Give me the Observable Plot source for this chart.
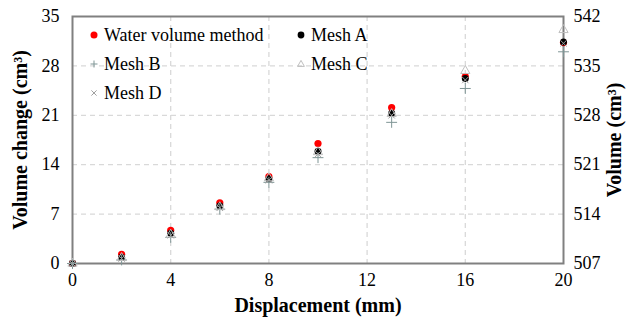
<!DOCTYPE html>
<html>
<head>
<meta charset="utf-8">
<script src="https://cdn.jsdelivr.net/npm/d3@7"></script>
<script src="https://cdn.jsdelivr.net/npm/@observablehq/plot@0.6"></script>
<style>
  html, body { margin: 0; padding: 0; background: #fff; }
  #wrap { position: relative; width: 627px; height: 324px; font-family: "Liberation Serif", "Times New Roman", serif; }
  #wrap svg { position: absolute; left: 0; top: 0; overflow: visible; font-family: "Liberation Serif", "Times New Roman", serif !important; }
  #wrap svg text { font-family: "Liberation Serif", "Times New Roman", serif !important; }
</style>
</head>
<body>
<div id="wrap"></div>
<script>
// ---- data ----
const displacement = [0, 2, 4, 6, 8, 10, 13, 16, 20];
const waterVolume  = [0, 1.3, 4.7, 8.6, 12.3, 17.0, 22.1, 26.5, 31.3];
const meshA        = [0, 0.9, 4.3, 8.2, 12.0, 15.9, 21.3, 26.2, 31.4];
const meshB        = [0, 0.5, 3.7, 7.7, 11.5, 15.0, 20.0, 24.8, 30.0];
const meshC        = [0, 0.8, 4.1, 8.0, 12.1, 15.8, 21.2, 27.3, 33.1];
const meshD        = [0, 0.7, 4.0, 7.9, 11.8, 15.5, 21.0, 26.0, 31.2];
const xTicks = [0, 4, 8, 12, 16, 20];
const yTicks = [0, 7, 14, 21, 28, 35];
const volumeOffset = 507; // right axis: absolute volume = change + 507
const seriesNames = ["Water volume method", "Mesh A", "Mesh B", "Mesh C", "Mesh D"];

const rows = (ys) => displacement.map((x, i) => ({x, y: ys[i]}));

const W = 627, H = 324;
const font = "'Liberation Serif', 'Times New Roman', serif";

const chart = Plot.plot({
  width: W, height: H,
  marginLeft: 72, marginRight: 64, marginTop: 16, marginBottom: 61,
  style: {fontFamily: font, fontSize: "18px", color: "#000", background: "transparent"},
  x: {domain: [0, 20]},
  y: {domain: [0, 35]},
  marks: [
    Plot.gridX(xTicks.slice(1, -1), {stroke: "#d9d9d9", strokeOpacity: 1, strokeWidth: 1.3, strokeDasharray: "5,4"}),
    Plot.gridY(yTicks.slice(1, -1), {stroke: "#d9d9d9", strokeOpacity: 1, strokeWidth: 1.3, strokeDasharray: "5,4"}),
    Plot.frame({stroke: "#808080", strokeWidth: 2}),
    Plot.axisX(xTicks, {tickSize: 0, tickPadding: 10, label: null, fontSize: 18, fontFamily: font}),
    Plot.axisY(yTicks, {anchor: "left", tickSize: 0, tickPadding: 13, label: null, fontSize: 18, fontFamily: font}),
    Plot.axisY(yTicks, {anchor: "right", tickSize: 0, tickPadding: 10, label: null, fontSize: 18, fontFamily: font,
      tickFormat: d => String(d + volumeOffset)}),
    Plot.dot(rows(waterVolume), {x: "x", y: "y", r: 3.6, fill: "#ff0000", stroke: "none"}),
    Plot.dot(rows(meshA), {x: "x", y: "y", r: 3.5, fill: "#000", stroke: "none"}),
    Plot.dot(rows(meshB), {x: "x", y: "y", symbol: "plus", r: 3.6, stroke: "#7f9595", strokeWidth: 1, fill: "none"}),
    Plot.dot(rows(meshC), {x: "x", y: "y", symbol: "triangle", r: 3.4, stroke: "#bfbfbf", strokeWidth: 1, fill: "none"}),
    Plot.dot(rows(meshD), {x: "x", y: "y", symbol: "times", r: 3.0, stroke: "#a0a0a0", strokeWidth: 1, fill: "none"}),
    Plot.text(["Displacement (mm)"], {frameAnchor: "bottom", dy: 42, fontSize: 20, fontWeight: "bold", lineAnchor: "middle", textAnchor: "middle", fontFamily: font}),
    Plot.text(["Volume change (cm³)"], {frameAnchor: "left", dx: -52, rotate: -90, fontSize: 20, fontWeight: "bold", lineAnchor: "middle", textAnchor: "middle", fontFamily: font}),
    Plot.text(["Volume (cm³)"], {frameAnchor: "right", dx: 51, rotate: -90, fontSize: 20, fontWeight: "bold", lineAnchor: "middle", textAnchor: "middle", fontFamily: font})
  ]
});
document.getElementById("wrap").appendChild(chart);

// ---- legend overlay (inside the plot frame, two columns) ----
const legendItems = [
  {name: seriesNames[0], sym: "circleRed", col: 0, row: 0},
  {name: seriesNames[1], sym: "circleBlack", col: 1, row: 0},
  {name: seriesNames[2], sym: "plus", col: 0, row: 1},
  {name: seriesNames[3], sym: "triangle", col: 1, row: 1},
  {name: seriesNames[4], sym: "times", col: 0, row: 2}
];
const leg = d3.select("#wrap").append("svg").attr("width", W).attr("height", H)
  .style("pointer-events", "none");
const colX = [94, 301], rowY = [35, 64, 93];
for (const it of legendItems) {
  const cx = colX[it.col], cy = rowY[it.row];
  const g = leg.append("g");
  if (it.sym === "circleRed") g.append("circle").attr("cx", cx).attr("cy", cy).attr("r", 3.5).attr("fill", "#ff0000");
  if (it.sym === "circleBlack") g.append("circle").attr("cx", cx).attr("cy", cy).attr("r", 3.4).attr("fill", "#000");
  if (it.sym === "plus") g.append("path").attr("d", `M${cx-3.5},${cy}H${cx+3.5}M${cx},${cy-3.5}V${cy+3.5}`).attr("stroke", "#7f9595").attr("stroke-width", 1);
  if (it.sym === "triangle") g.append("path").attr("d", `M${cx},${cy-3.6}L${cx+3.4},${cy+2.4}L${cx-3.4},${cy+2.4}Z`).attr("stroke", "#bfbfbf").attr("fill", "none").attr("stroke-width", 1);
  if (it.sym === "times") g.append("path").attr("d", `M${cx-2.6},${cy-2.6}L${cx+2.6},${cy+2.6}M${cx-2.6},${cy+2.6}L${cx+2.6},${cy-2.6}`).attr("stroke", "#a0a0a0").attr("stroke-width", 1);
  g.append("text").attr("x", cx + 10).attr("y", cy).attr("dy", "0.35em")
    .attr("font-family", font).attr("font-size", 18).attr("fill", "#000").text(it.name);
}
</script>
</body>
</html>
